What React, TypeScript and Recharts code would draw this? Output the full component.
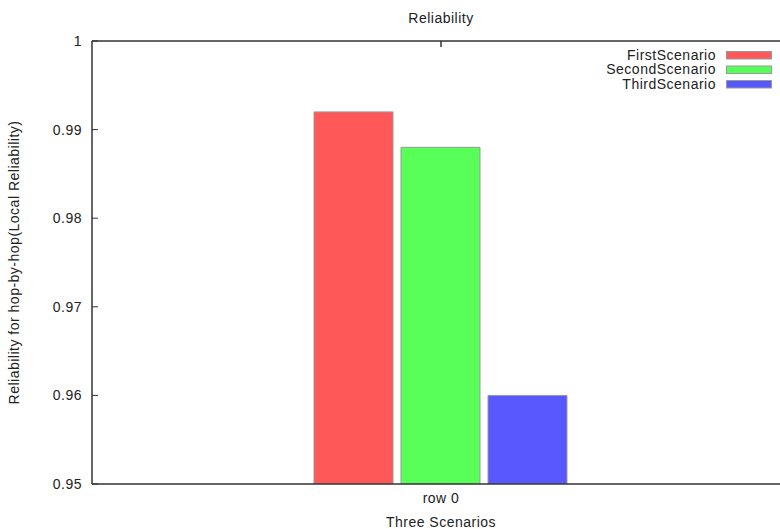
import React from 'react';
import { BarChart, Bar, XAxis, YAxis, ReferenceLine } from 'recharts';

const categories = ['row 0'];
const seriesNames = ['FirstScenario', 'SecondScenario', 'ThirdScenario'];
const firstValues = [0.992];
const secondValues = [0.988];
const thirdValues = [0.96];
const yTicks = [0.95, 0.96, 0.97, 0.98, 0.99, 1];
const colors = ['#ff5858', '#58ff58', '#5858ff'];

const data = categories.map((c, i) => ({
  name: c,
  FirstScenario: firstValues[i],
  SecondScenario: secondValues[i],
  ThirdScenario: thirdValues[i],
}));

const FONT = '"Liberation Sans", Arial, sans-serif';
const TXT = '#222';
const AX = '#333';
const FS = 14;
const LS = 0.5;

const YTick = (props: any) => {
  const { x, y, payload } = props;
  const label = payload.value === 1 ? '1' : String(payload.value);
  return (
    <g>
      <line x1={x} x2={x + 6} y1={y} y2={y} stroke={AX} strokeWidth={1} />
      <text x={x - 10} y={y} dy="0.35em" textAnchor="end" fontSize={FS} letterSpacing={LS} fill={TXT} fontFamily={FONT}>
        {label}
      </text>
    </g>
  );
};

const XTick = (props: any) => {
  const { x, y, payload } = props;
  return (
    <text x={x} y={y + 14} dy="0.35em" textAnchor="middle" fontSize={FS} letterSpacing={LS} fill={TXT} fontFamily={FONT}>
      {payload.value}
    </text>
  );
};

const TopTick = (props: any) => {
  const { x, y } = props;
  return <line x1={x} x2={x} y1={y} y2={y + 6} stroke={AX} strokeWidth={1.5} />;
};

export default function App() {
  return (
    <div style={{ position: 'absolute', left: 0, top: 0, width: 780, height: 529, overflow: 'hidden', background: '#fff' }}>
      <BarChart
        width={800}
        height={529}
        data={data}
        margin={{ top: 40, right: 10, left: 0, bottom: 0 }}
        barGap={8}
        barCategoryGap={222}
      >
        <text x={441} y={18} dy="0.35em" textAnchor="middle" fontSize={FS} letterSpacing={LS} fill={TXT} fontFamily={FONT}>
          Reliability
        </text>
        <g>
          {seriesNames.map((n, i) => (
            <g key={n}>
              <text x={716} y={55 + i * 14.5} dy="0.35em" textAnchor="end" fontSize={FS} letterSpacing={LS} fill={TXT} fontFamily={FONT}>
                {n}
              </text>
              <rect x={726.5} y={51.5 + i * 14.5} width={45} height={7.5} fill={colors[i]} stroke="#999" strokeWidth={1} />
            </g>
          ))}
        </g>
        <XAxis
          dataKey="name"
          height={45}
          axisLine={{ stroke: AX, strokeWidth: 1.5 }}
          tickLine={false}
          tickSize={0}
          tickMargin={0}
          tick={<XTick />}
          label={{ value: 'Three Scenarios', position: 'insideBottom', offset: 2, fontSize: FS, fill: TXT, fontFamily: FONT, letterSpacing: LS } as any}
        />
        <XAxis
          dataKey="name"
          xAxisId="top"
          orientation="top"
          height={1}
          axisLine={false}
          tickLine={false}
          tickSize={0}
          tickMargin={0}
          tick={<TopTick />}
        />
        <YAxis
          width={92}
          domain={[0.95, 1]}
          ticks={yTicks}
          allowDataOverflow
          axisLine={{ stroke: AX, strokeWidth: 1.5 }}
          tickLine={false}
          tickSize={0}
          tickMargin={0}
          tick={<YTick />}
          label={{ value: 'Reliability for hop-by-hop(Local Reliability)', angle: -90, position: 'insideLeft', offset: 14, style: { textAnchor: 'middle' }, fontSize: FS, fill: TXT, fontFamily: FONT, letterSpacing: LS } as any}
        />
        <ReferenceLine y={1} stroke={AX} strokeWidth={1.5} ifOverflow="visible" />
        {seriesNames.map((n, i) => (
          <Bar key={n} dataKey={n} fill={colors[i]} stroke="#999" strokeWidth={1} isAnimationActive={false} />
        ))}
      </BarChart>
    </div>
  );
}
